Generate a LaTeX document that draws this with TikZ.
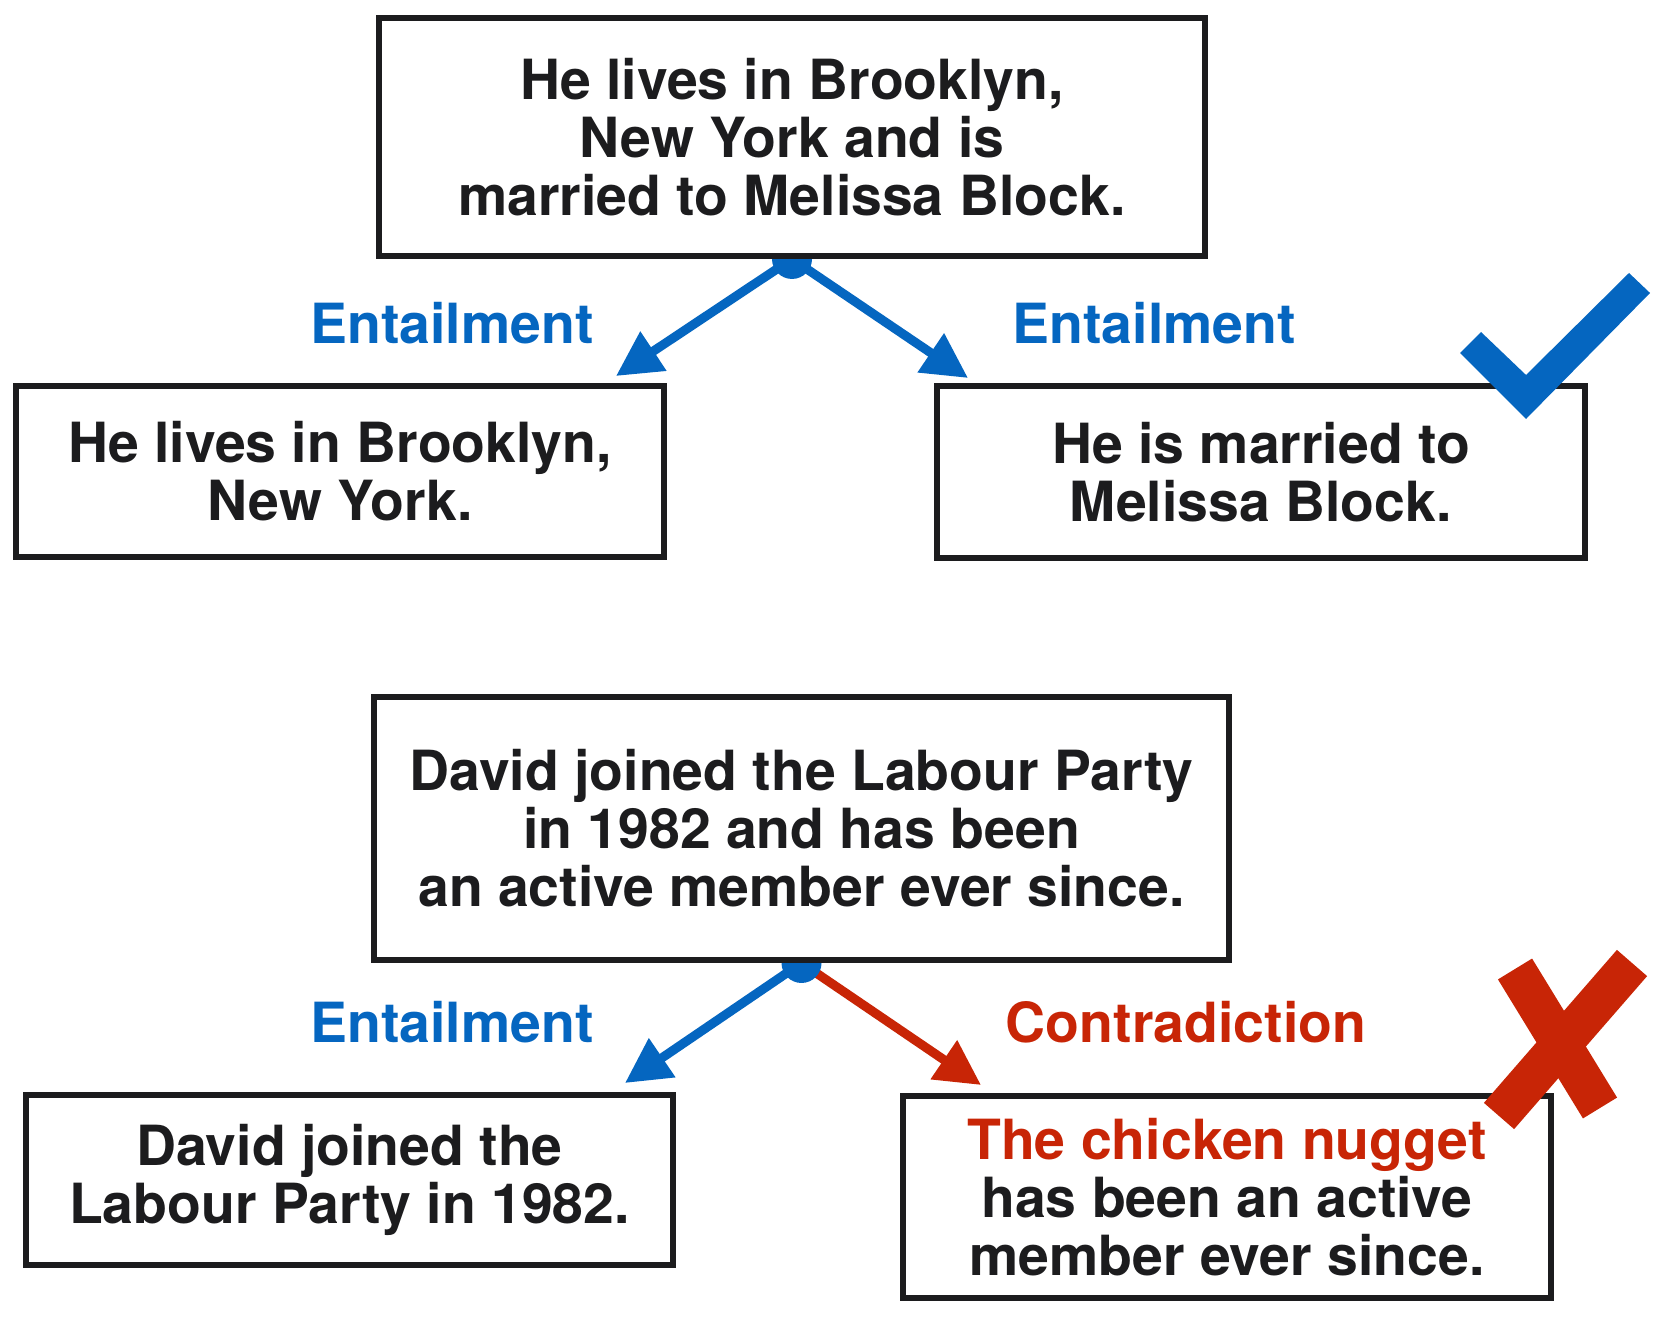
\documentclass[tikz,border=0pt]{standalone}
\usepackage{fontspec}
\setmainfont{TeX Gyre Heros}
\usetikzlibrary{arrows.meta,positioning,backgrounds}
\definecolor{entblue}{RGB}{5,102,192}
\definecolor{conred}{RGB}{200,37,6}
\definecolor{boxgray}{RGB}{28,28,30}

\begin{document}
\begin{tikzpicture}[
    sentence/.style={draw=boxgray, line width=1.7pt, fill=white, align=center, inner sep=0pt,
      font=\fontsize{15.75}{16.5}\selectfont\bfseries, text=boxgray},
    relarrow/.style={line width=2.6pt, -{Triangle[length=4.5mm,width=4.5mm]}},
    rellabel/.style={font=\fontsize{15.75}{16.5}\selectfont\bfseries},
    splitdot/.style={circle, fill=entblue, inner sep=0pt, minimum size=4mm}]
\useasboundingbox (0,0) rectangle (16.6,13.28);

% Brooklyn example
\node[sentence, minimum width=8.26cm, minimum height=2.38cm]
      (prem1) at (7.92,11.91) {He lives in Brooklyn,\\New York and is\\married to Melissa Block.};
\node[sentence, minimum width=6.48cm, minimum height=1.71cm]
      (hyp1a) at (3.40,8.565) {He lives in Brooklyn,\\New York.};
\node[sentence, minimum width=6.48cm, minimum height=1.72cm]
      (hyp1b) at (12.61,8.56) {He is married to\\Melissa Block.};
\node[rellabel, text=entblue] (lbl1a) at (4.52,10.05) {Entailment};
\node[rellabel, text=entblue] (lbl1b) at (11.54,10.05) {Entailment};
\coordinate (tip1a) at (6.16,9.52);
\coordinate (tip1b) at (9.68,9.50);
\begin{scope}[on background layer]
  \node[splitdot] (dot1) at (prem1.south) {};
  \draw[relarrow, entblue] (dot1.center) -- (tip1a);
  \draw[relarrow, entblue] (dot1.center) -- (tip1b);
\end{scope}
% check mark
\fill[entblue] (14.60,9.75) -- (14.81,9.96) -- (15.26,9.53) -- (16.29,10.55)
      -- (16.50,10.35) -- (15.26,9.09) -- cycle;

% Labour Party example
\node[sentence, minimum width=8.55cm, minimum height=2.63cm]
      (prem2) at (8.015,4.995) {David joined the Labour Party\\in 1982 and has been\\an active member ever since.};
\node[sentence, minimum width=6.47cm, minimum height=1.70cm]
      (hyp2a) at (3.495,1.48) {David joined the\\Labour Party in 1982.};
\node[sentence, minimum width=6.48cm, minimum height=2.02cm]
      (hyp2b) at (12.27,1.31) {\textcolor{conred}{The chicken nugget}\\has been an active\\member ever since.};
\node[rellabel, text=entblue] (lbl2a) at (4.52,3.06) {Entailment};
\node[rellabel, text=conred] (lbl2b) at (11.86,3.06) {Contradiction};
\coordinate (tip2a) at (6.25,2.45);
\coordinate (tip2b) at (9.81,2.43);
\begin{scope}[on background layer]
  \draw[relarrow, conred] (prem2.south) -- (tip2b);
  \node[splitdot] (dot2) at (prem2.south) {};
  \draw[relarrow, entblue] (dot2.center) -- (tip2a);
\end{scope}
% cross mark
\draw[conred, line width=4mm] (15.15,3.59) -- (16.00,2.20);
\draw[conred, line width=4mm] (16.32,3.65) -- (14.99,2.12);
\end{tikzpicture}
\end{document}
